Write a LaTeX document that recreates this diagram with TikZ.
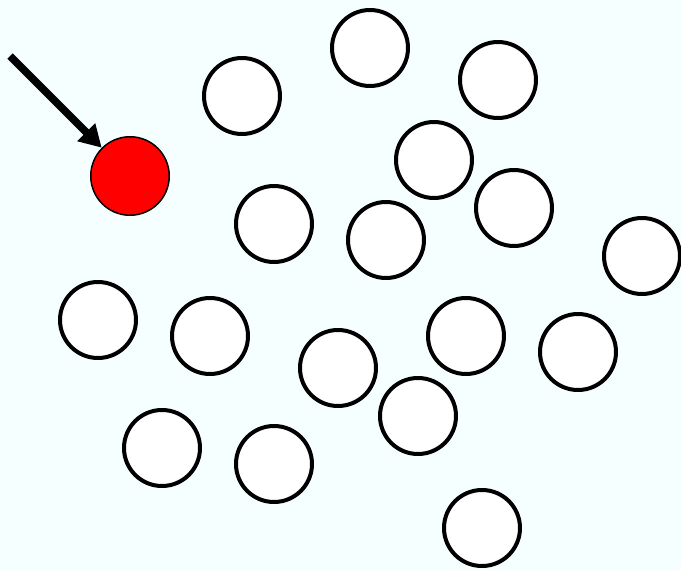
\documentclass[tikz,border=0pt]{standalone}
\usepackage{xcolor}
\usepackage{tikz}
\usetikzlibrary{arrows.meta}

\definecolor{bgcyan}{RGB}{245,255,255}

\begin{document}
\begin{tikzpicture}[x=1pt,y=-1pt,
    ball/.style={circle,draw=black,line width=4pt,fill=white,minimum size=76pt,inner sep=0pt},
    hotball/.style={circle,draw=black,line width=1.5pt,fill=red,minimum size=78.5pt,inner sep=0pt},
    pointer/.style={draw=black,line width=7.5pt,-{Triangle[length=22pt,width=24pt]}}]
  % background and size
  \fill[bgcyan] (0,0) rectangle (681,570);
  \useasboundingbox (0,0) rectangle (681,570);

  % white circles
  \foreach \x/\y [count=\i] in {242/96, 370/48, 498/80, 434/160, 514/208,
      274/224, 386/240, 642/256, 98/320, 210/336, 466/336, 338/368,
      578/352, 418/416, 162/448, 274/464, 482/528}
    \node[ball] (c\i) at (\x,\y) {};

  % red circle
  \node[hotball] (red) at (130,176) {};

  % pointer arrow
  \coordinate (start) at (10,56);
  \path[pointer] (start) -- (red.north west);
\end{tikzpicture}
\end{document}
